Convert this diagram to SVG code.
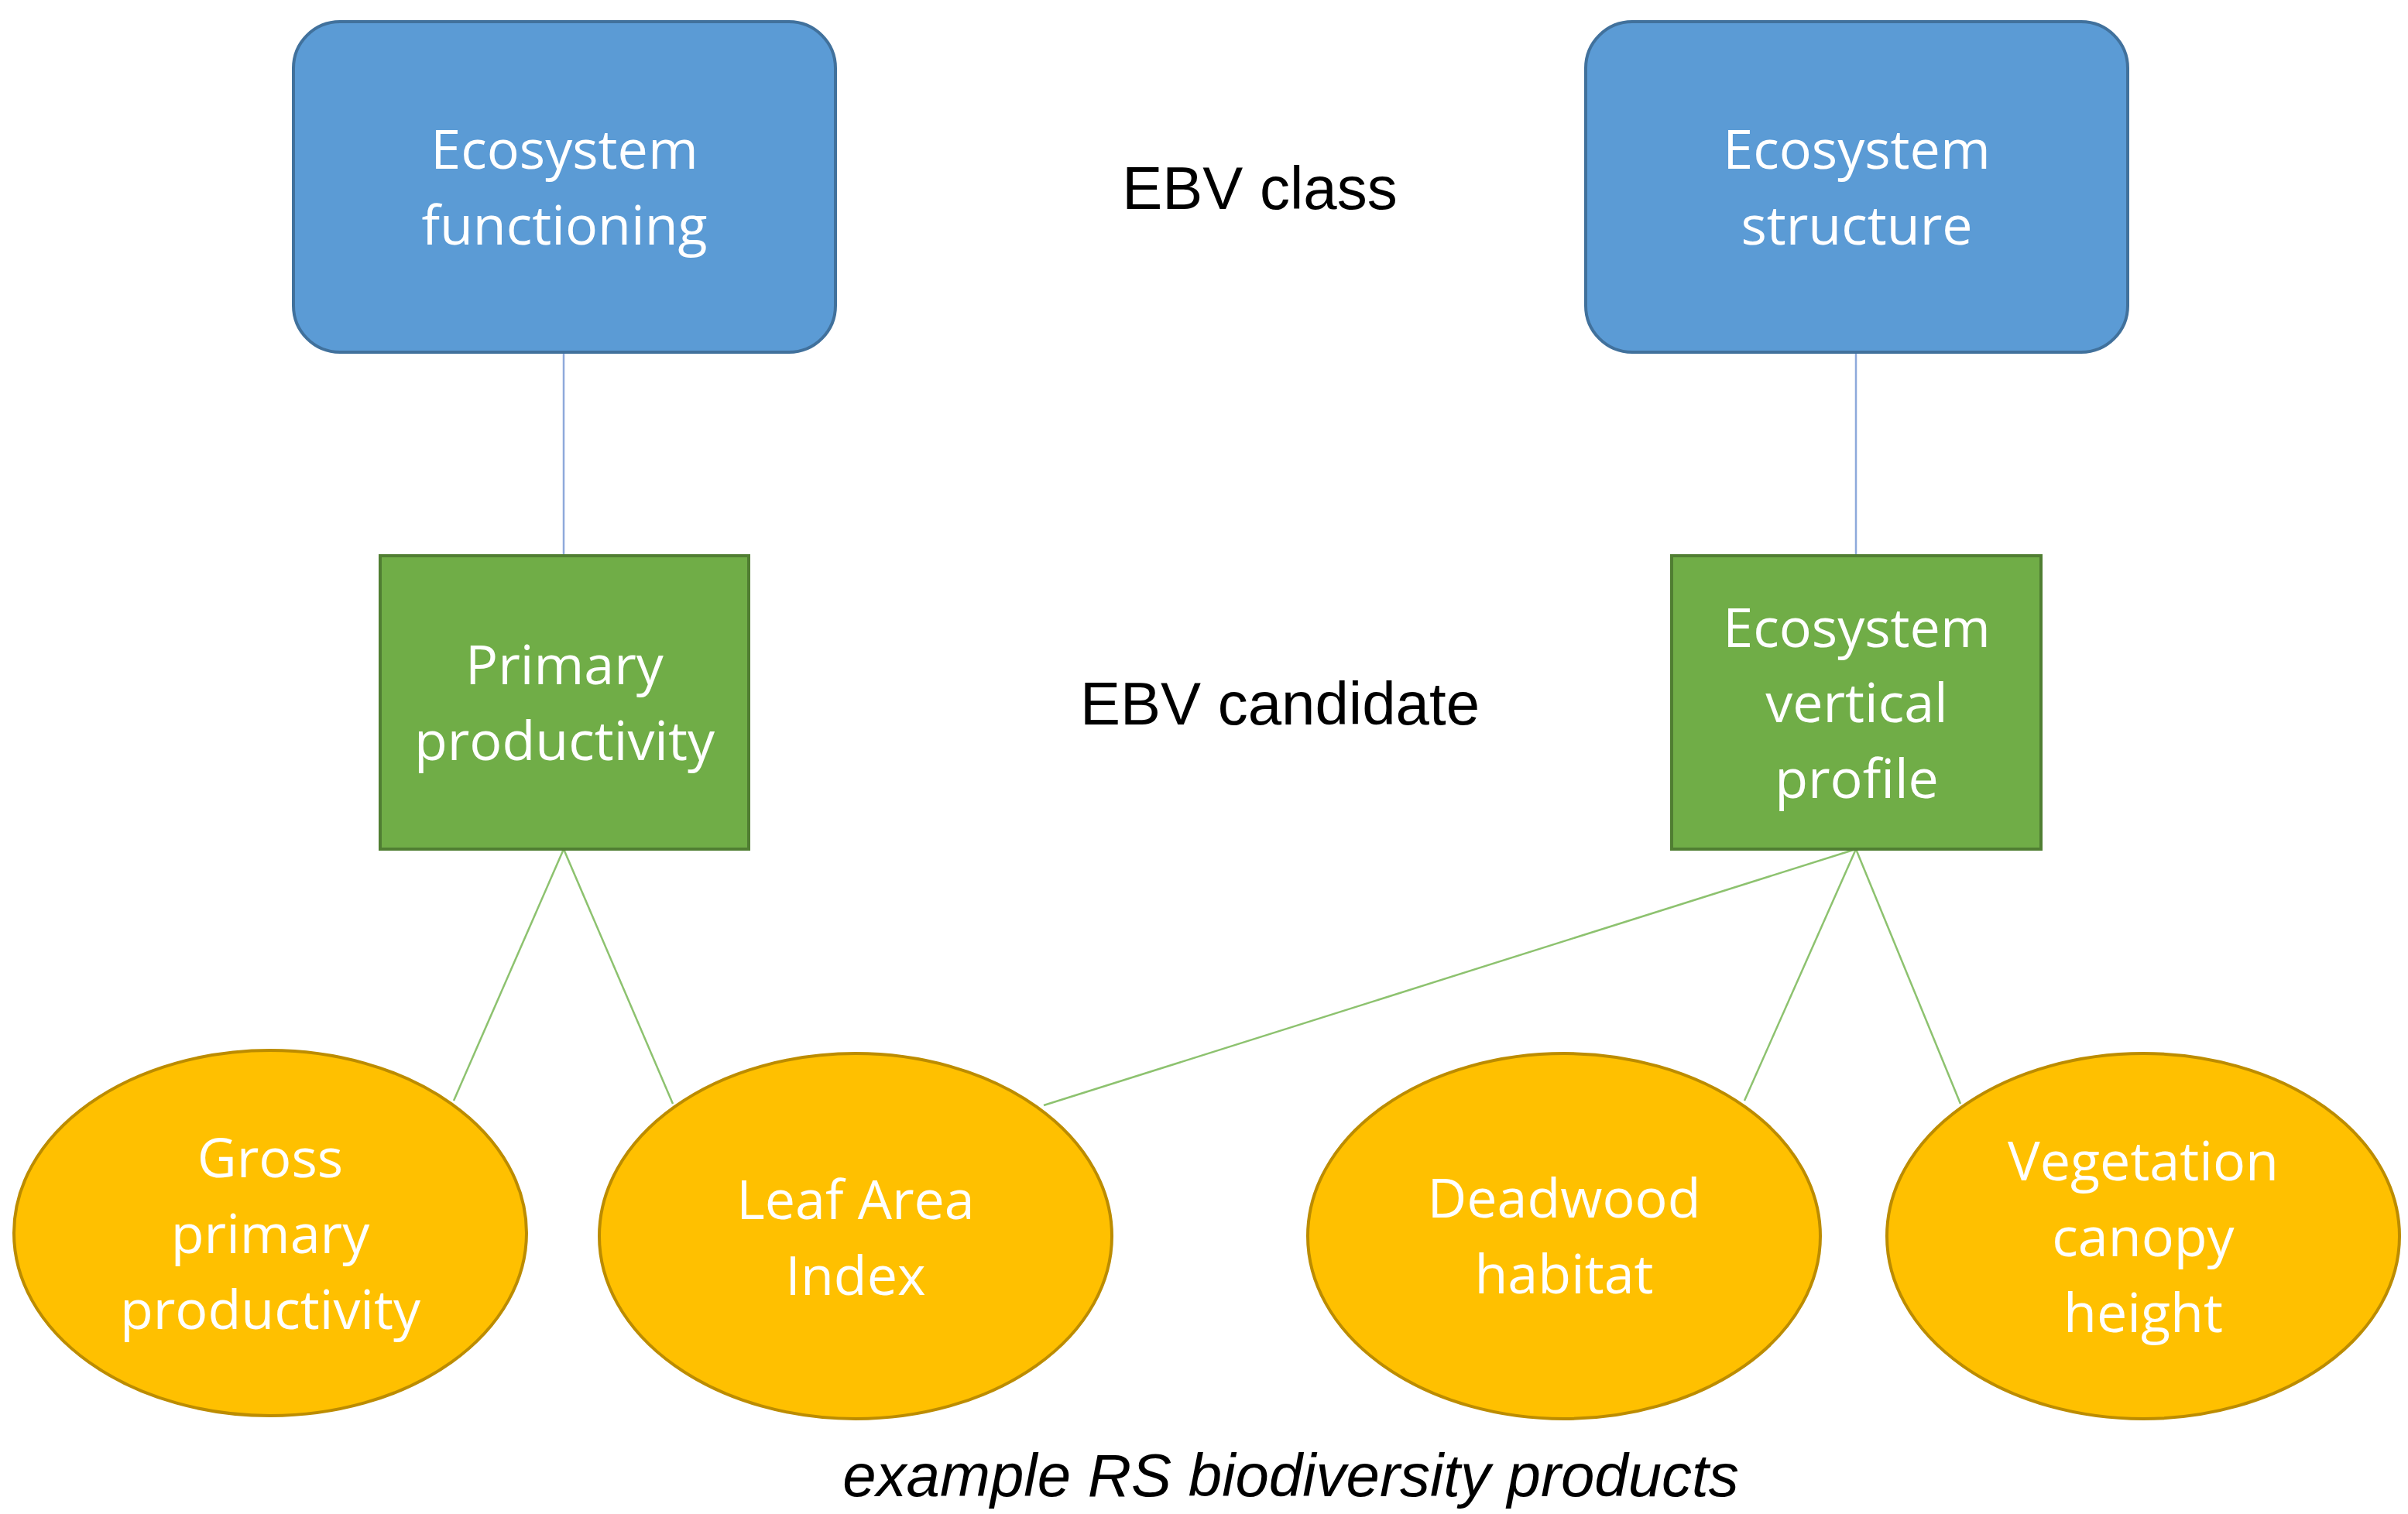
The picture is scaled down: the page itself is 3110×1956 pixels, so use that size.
<svg xmlns="http://www.w3.org/2000/svg" width="3110" height="1956" viewBox="0 0 3110 1956">
<style>
.cls{fill:#5B9BD5;stroke:#41719C;stroke-width:4}
.cand{fill:#70AD47;stroke:#507E32;stroke-width:4}
.prod{fill:#FFC000;stroke:#BC8C00;stroke-width:4}
.nt{font-family:"Open Sans","Noto Sans",sans-serif;font-size:70px;fill:#fff;text-anchor:middle}
.lb{font-family:"Liberation Sans",Arial,sans-serif;font-size:78px;fill:#000;text-anchor:middle}
.bl{stroke:#8EA9DB;stroke-width:2.5;fill:none}
.gl{stroke:#8DC26F;stroke-width:2.5;fill:none}
</style>
<rect width="3110" height="1956" fill="#fff"/>
<g id="connectors">
<line class="bl" x1="728" y1="455" x2="728" y2="718"/>
<line class="bl" x1="2397" y1="455" x2="2397" y2="718"/>
<line class="gl" x1="728" y1="1097" x2="586" y2="1422"/>
<line class="gl" x1="728" y1="1097" x2="869" y2="1426"/>
<line class="gl" x1="2397" y1="1097" x2="1348" y2="1428"/>
<line class="gl" x1="2397" y1="1097" x2="2253" y2="1422"/>
<line class="gl" x1="2397" y1="1097" x2="2532" y2="1426"/>
</g>
<g id="ecosystem-functioning"><rect class="cls" x="379" y="28" width="700" height="427" rx="60"/>
<text class="nt" x="729" y="218">Ecosystem</text><text class="nt" x="729" y="316">functioning</text></g>
<g id="ecosystem-structure"><rect class="cls" x="2048" y="28" width="700" height="427" rx="60"/>
<text class="nt" x="2398" y="218">Ecosystem</text><text class="nt" x="2398" y="316">structure</text></g>
<g id="primary-productivity"><rect class="cand" x="491" y="718" width="476" height="379"/>
<text class="nt" x="729" y="884">Primary</text><text class="nt" x="729" y="982">productivity</text></g>
<g id="vertical-profile"><rect class="cand" x="2159" y="718" width="477" height="379"/>
<text class="nt" x="2398" y="836">Ecosystem</text><text class="nt" x="2398" y="933">vertical</text><text class="nt" x="2398" y="1031">profile</text></g>
<g id="gpp"><ellipse class="prod" cx="349" cy="1593" rx="331" ry="236"/>
<text class="nt" x="349" y="1521">Gross</text><text class="nt" x="349" y="1619">primary</text><text class="nt" x="349" y="1717">productivity</text></g>
<g id="lai"><ellipse class="prod" cx="1105" cy="1597" rx="331" ry="236"/>
<text class="nt" x="1105" y="1575">Leaf Area</text><text class="nt" x="1105" y="1673">Index</text></g>
<g id="deadwood"><ellipse class="prod" cx="2020" cy="1597" rx="331" ry="236"/>
<text class="nt" x="2020" y="1573">Deadwood</text><text class="nt" x="2020" y="1671">habitat</text></g>
<g id="canopy"><ellipse class="prod" cx="2768" cy="1597" rx="331" ry="236"/>
<text class="nt" x="2768" y="1525">Vegetation</text><text class="nt" x="2768" y="1623">canopy</text><text class="nt" x="2768" y="1721">height</text></g>
<text class="lb" x="1627" y="270">EBV class</text>
<text class="lb" x="1653" y="936">EBV candidate</text>
<text class="lb" x="1667" y="1933" font-size="56" font-style="italic">example RS biodiversity products</text>
</svg>
